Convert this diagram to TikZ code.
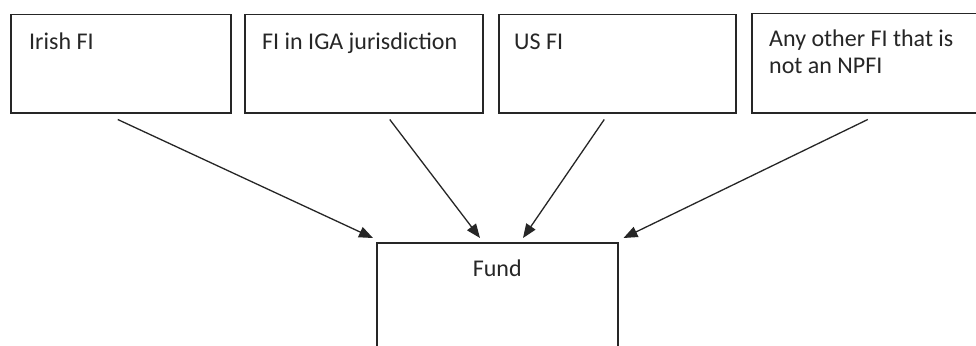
\documentclass[tikz,border=0pt]{standalone}
\usepackage{fontspec}
\setmainfont{Carlito}
\usetikzlibrary{arrows.meta,calc}
\begin{document}
\begin{tikzpicture}[x=1pt,y=-1pt,
  fibox/.style={draw=black!85, line width=1.5pt, rectangle, anchor=north west, inner sep=0pt},
  lbl/.style={anchor=base west, inner sep=0pt, font=\fontsize{24}{27}\selectfont, text=black!85, align=left},
  conn/.style={draw=black!85, line width=1.3pt, -{Triangle[length=14pt,width=11pt]}}]
\useasboundingbox (0,0) rectangle (976,345);
\fill[white] (0,0) rectangle (976,345);
% top boxes
\node[fibox, minimum width=220pt, minimum height=98pt] (irish) at (10,14) {};
\node[fibox, minimum width=238pt, minimum height=98pt] (iga) at (244,14) {};
\node[fibox, minimum width=237pt, minimum height=98pt] (us) at (498,14) {};
\node[fibox, minimum width=240pt, minimum height=99pt] (other) at (751,13) {};
% fund box
\node[fibox, minimum width=241pt, minimum height=130pt] (fund) at (376,242) {};
% labels
\node[lbl] (tirish) at ($(irish.north west)+(19,35)$) {Irish FI};
\node[lbl] (tiga) at ($(iga.north west)+(18,35)$) {FI in IGA jurisdiction};
\node[lbl] (tus) at ($(us.north west)+(16,35)$) {US FI};
\node[lbl, anchor=north west] (tother) at ($(other.north west)+(18,17)$) {Any other FI that is\\not an NPFI};
\node[lbl, anchor=base] (tfund) at ($(fund.north)+(0,34)$) {Fund};
% connector ends
\coordinate (s1) at ($(irish.south)+(-3,6)$);
\coordinate (s2) at ($(iga.south)+(26,6)$);
\coordinate (s3) at ($(us.south)+(-13,6)$);
\coordinate (s4) at ($(other.south)+(-4,6)$);
\coordinate (e1) at ($(fund.north west)+(-3,-4)$);
\coordinate (e2) at ($(fund.north west)+(104,-4)$);
\coordinate (e3) at ($(fund.north west)+(147,-4)$);
\coordinate (e4) at ($(fund.north east)+(5,-4)$);
\draw[conn] (s1) -- (e1);
\draw[conn] (s2) -- (e2);
\draw[conn] (s3) -- (e3);
\draw[conn] (s4) -- (e4);
\end{tikzpicture}
\end{document}
